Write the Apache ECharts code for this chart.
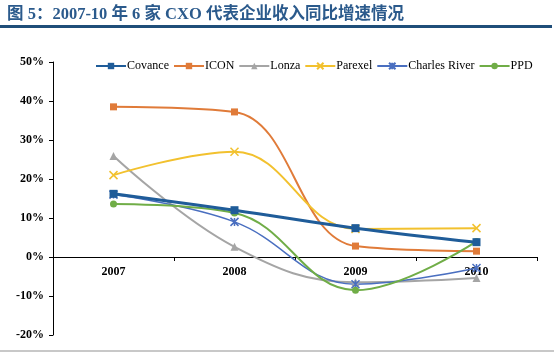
<!DOCTYPE html>
<html>
<head>
<meta charset="utf-8">
<script src="https://cdn.jsdelivr.net/npm/echarts@6/dist/echarts.min.js"></script>
<style>
  html, body { margin: 0; padding: 0; background: #fff; }
  #chart { width: 554px; height: 352px; }
</style>
</head>
<body>
<div id="chart"></div>
<script>
// 年份
var years = ['2007', '2008', '2009', '2010'];
// 各企业收入同比增速（%）
var covance = [16.2, 12.0, 7.4, 3.8];
var icon = [38.5, 37.2, 2.8, 1.5];
var lonza = [25.9, 2.6, -6.5, -5.4];
var parexel = [21.0, 27.0, 7.2, 7.4];
var charlesRiver = [16.0, 9.0, -7.0, -2.8];
var ppd = [13.6, 11.3, -8.5, 4.0];
// 纵轴范围
var yMin = -20, yMax = 50, yStep = 10;

var serif = '"Liberation Serif", "Noto Sans CJK SC", serif';

function make_series(name, data, color, symbol, size, width, stroke) {
    var s = {
        name: name,
        type: 'line',
        smooth: 0.4,
        data: data,
        symbol: symbol,
        symbolSize: size,
        lineStyle: { color: color, width: width },
        itemStyle: { color: color },
        z: name == 'Covance' ? 3 : 2
    };
    if (stroke) {
        // 叉形标记只有描边
        s.itemStyle = { color: color, borderColor: color, borderWidth: 1.5 };
    }
    return s;
}

window.onload = function () {
    var myChart = echarts.init(document.getElementById('chart'));
    var gridTop = 62, gridBottom = 17;
    var plotH = 352 - gridTop - gridBottom;
    // 横轴放在 0% 处
    var zeroOffset = -plotH * (0 - yMin) / (yMax - yMin);

    var option = {
        animation: false,
        backgroundColor: '#fff',
        title: {
            text: '图 5：2007-10 年 6 家 CXO 代表企业收入同比增速情况',
            left: 2,
            top: 1,
            textStyle: { fontFamily: serif, fontSize: 16.5, fontWeight: 'bold', color: '#2b5a8c' }
        },
        graphic: [
            { type: 'rect', shape: { x: 0, y: 25, width: 552, height: 3 }, style: { fill: '#1f4e79' } },
            { type: 'rect', shape: { x: 0, y: 350, width: 554, height: 2 }, style: { fill: '#c8c8c8' } }
        ],
        legend: {
            left: 90,
            top: 55,
            itemWidth: 30,
            itemHeight: 8,
            itemGap: 4,
            textStyle: { fontFamily: serif, fontSize: 12, color: '#000', padding: [0, 0, 0, -4] },
            data: ['Covance', 'ICON', 'Lonza', 'Parexel', 'Charles River', 'PPD']
        },
        grid: { left: 53, right: 17, top: gridTop, bottom: gridBottom, containLabel: false, outerBoundsMode: 'none' },
        xAxis: {
            type: 'category',
            data: years,
            offset: zeroOffset,
            axisLine: { onZero: false, lineStyle: { color: '#000', width: 1 } },
            axisTick: { show: true, length: 4, lineStyle: { color: '#000' } },
            axisLabel: { fontFamily: serif, fontSize: 12, fontWeight: 'bold', color: '#000', margin: 9 }
        },
        yAxis: {
            type: 'value',
            min: yMin,
            max: yMax,
            interval: yStep,
            splitLine: { show: false },
            axisLine: { show: true, lineStyle: { color: '#000', width: 1 } },
            axisTick: { show: true, length: 4, lineStyle: { color: '#000' } },
            axisLabel: { formatter: '{value}%', fontFamily: serif, fontSize: 12, fontWeight: 'bold', color: '#000', margin: 9 }
        },
        series: [
            make_series('Covance', covance, '#1f5c99', 'rect', 8, 3),
            make_series('ICON', icon, '#e07b39', 'rect', 7, 2),
            make_series('Lonza', lonza, '#a5a5a5', 'triangle', 8, 2),
            make_series('Parexel', parexel, '#f2c12e', 'path://M0,0L10,10M10,0L0,10', 8, 2, true),
            make_series('Charles River', charlesRiver, '#4a6fc0', 'path://M0,0L10,10M10,0L0,10M5,0L5,10', 8, 1.5, true),
            make_series('PPD', ppd, '#70ad47', 'circle', 7, 2)
        ]
    };
    myChart.setOption(option);
};
</script>
</body>
</html>
